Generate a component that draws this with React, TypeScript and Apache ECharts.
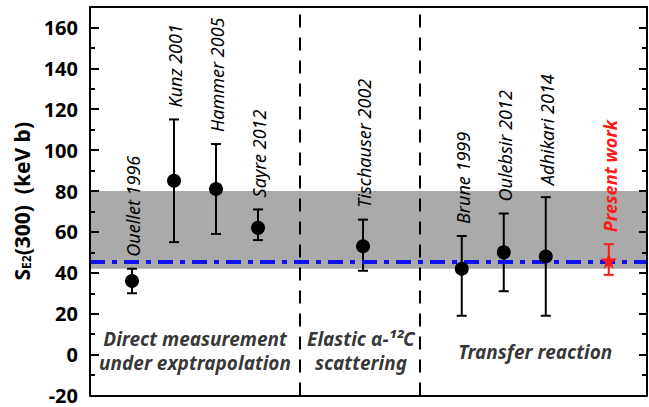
import React, { useEffect, useRef } from 'react';
import * as echarts from 'echarts';

// ---- data ----
const studyNames = ['Ouellet 1996', 'Kunz 2001', 'Hammer 2005', 'Sayre 2012', 'Tischauser 2002', 'Brune 1999', 'Oulebsir 2012', 'Adhikari 2014'];
const studyX = [1, 2, 3, 4, 6.5, 8.85, 9.85, 10.85];
const studyValue = [36, 85, 81, 62, 53, 42, 50, 48];
const studyLow = [30, 55, 59, 56, 41, 19, 31, 19];
const studyHigh = [42, 115, 103, 71, 66, 58, 69, 77];

const presentNames = ['Present work'];
const presentX = [12.35];
const presentValue = [46];
const presentLow = [39];
const presentHigh = [54];

const bandRange = [42, 80];
const meanValue = 45.5;
const dividerX = [5, 7.85];

const groupLabels = ['Direct measurement\nunder exptrapolation', 'Elastic α-¹²C\nscattering', 'Transfer reaction'];
const groupX = [2.5, 6.45, 10.6];
const groupY = [2, 2, 1.5];

const yMin = -20;
const yMax = 170;
const yMajor = 20;
const yMinor = 10;
const xMin = 0;
const xMax = 13.26;

const FONT = '"Noto Sans", "DejaVu Sans", sans-serif';

function errorBarRender(names: string[], color: string, bold: boolean) {
  return (params: any, api: any) => {
    const x = api.value(0);
    const lo = api.coord([x, api.value(2)]);
    const hi = api.coord([x, api.value(3)]);
    const cap = 5;
    const style = { stroke: color, lineWidth: 2 };
    return {
      type: 'group',
      children: [
        { type: 'line', shape: { x1: lo[0], y1: lo[1], x2: hi[0], y2: hi[1] }, style },
        { type: 'line', shape: { x1: lo[0] - cap, y1: lo[1], x2: lo[0] + cap, y2: lo[1] }, style },
        { type: 'line', shape: { x1: hi[0] - cap, y1: hi[1], x2: hi[0] + cap, y2: hi[1] }, style },
        {
          type: 'text',
          x: hi[0] + 1,
          y: hi[1] - 12,
          rotation: Math.PI / 2,
          style: {
            text: names[params.dataIndex],
            fill: color,
            fontSize: 18,
            fontStyle: 'italic',
            fontWeight: bold ? 'bold' : 'normal',
            fontFamily: FONT,
            align: 'left',
            verticalAlign: 'middle',
          },
        },
      ],
    };
  };
}

const starPath = 'path://M50,0 L61,35 L98,35 L68,57 L79,91 L50,70 L21,91 L32,57 L2,35 L39,35 Z';

export default function App() {
  const ref = useRef<HTMLDivElement>(null);
  useEffect(() => {
    if (!ref.current) return;
    const chart = echarts.init(ref.current, undefined, { renderer: 'svg' });

    const yAxisBase = {
      type: 'value',
      min: yMin,
      max: yMax,
      splitLine: { show: false },
      z: 10,
    };

    const option: any = {
      animation: false,
      backgroundColor: '#ffffff',
      grid: { left: 90, right: 2, top: 7, bottom: 11.5, containLabel: false },
      xAxis: [
        {
          type: 'value', min: xMin, max: xMax, position: 'bottom', z: 10,
          axisLine: { show: true, onZero: false, lineStyle: { color: '#000', width: 2 } },
          axisTick: { show: false }, axisLabel: { show: false }, splitLine: { show: false },
        },
        {
          type: 'value', min: xMin, max: xMax, position: 'top', z: 10,
          axisLine: { show: true, onZero: false, lineStyle: { color: '#000', width: 2 } },
          axisTick: { show: false }, axisLabel: { show: false }, splitLine: { show: false },
        },
      ],
      yAxis: [
        {
          ...yAxisBase,
          position: 'left',
          interval: yMajor,
          axisLine: { show: true, lineStyle: { color: '#000', width: 2 } },
          axisTick: { show: true, inside: true, length: 9, lineStyle: { color: '#000', width: 2 } },
          axisLabel: {
            show: true,
            margin: 12,
            color: '#000',
            fontSize: 20,
            lineHeight: 20,
            fontWeight: 'bold',
            fontFamily: FONT,
            formatter: (v: number) => (v % yMajor === 0 ? String(v) : ''),
          },
          name: '{b|S}{s|E2}{b|(300)  (keV b)}',
          nameLocation: 'middle',
          nameGap: 58,
          nameTextStyle: {
            rich: {
              b: { fontSize: 21, fontWeight: 'bold', fontFamily: FONT, color: '#000', verticalAlign: 'bottom' },
              s: { fontSize: 12, fontWeight: 'bold', fontFamily: FONT, color: '#000', verticalAlign: 'bottom' },
            },
          },
        },
        {
          ...yAxisBase,
          position: 'left',
          interval: yMinor,
          axisLine: { show: false },
          axisTick: { show: true, inside: true, length: 5, lineStyle: { color: '#000', width: 2 } },
          axisLabel: { show: false },
        },
        {
          ...yAxisBase,
          position: 'right',
          interval: yMajor,
          axisLine: { show: true, lineStyle: { color: '#000', width: 2 } },
          axisTick: { show: true, inside: true, length: 8, lineStyle: { color: '#000', width: 2 } },
          axisLabel: { show: false },
        },
        {
          ...yAxisBase,
          position: 'right',
          interval: yMinor,
          axisLine: { show: false },
          axisTick: { show: true, inside: true, length: 5, lineStyle: { color: '#000', width: 2 } },
          axisLabel: { show: false },
        },
      ],
      series: [
        {
          name: 'band',
          type: 'line',
          data: [],
          z: 1,
          silent: true,
          markArea: {
            silent: true,
            itemStyle: { color: '#aaaaaa' },
            data: [[{ yAxis: bandRange[0] }, { yAxis: bandRange[1] }]],
          },
        },
        {
          name: 'dividers',
          type: 'line',
          data: [],
          z: 2,
          silent: true,
          markLine: {
            silent: true,
            symbol: ['none', 'none'],
            label: { show: false },
            lineStyle: { color: '#000', width: 2, type: [13, 10] },
            data: dividerX.map((x) => ({ xAxis: x })),
          },
        },
        {
          name: 'mean',
          type: 'line',
          data: [],
          z: 3,
          silent: true,
          markLine: {
            silent: true,
            symbol: ['none', 'none'],
            label: { show: false },
            lineStyle: { color: '#1010f0', width: 4, type: [15, 7, 5, 7] },
            data: [{ yAxis: meanValue }],
          },
        },
        {
          name: 'studyErr',
          type: 'custom',
          z: 4,
          silent: true,
          renderItem: errorBarRender(studyNames, '#000000', false),
          encode: { x: 0, y: [1, 2, 3] },
          data: studyX.map((x, i) => [x, studyValue[i], studyLow[i], studyHigh[i]]),
        },
        {
          name: 'presentErr',
          type: 'custom',
          z: 4,
          silent: true,
          renderItem: errorBarRender(presentNames, '#ff1a1a', true),
          encode: { x: 0, y: [1, 2, 3] },
          data: presentX.map((x, i) => [x, presentValue[i], presentLow[i], presentHigh[i]]),
        },
        {
          name: 'studies',
          type: 'scatter',
          z: 5,
          symbol: 'circle',
          symbolSize: 14,
          itemStyle: { color: '#000', opacity: 1 },
          data: studyX.map((x, i) => [x, studyValue[i]]),
        },
        {
          name: 'present',
          type: 'scatter',
          z: 5,
          symbol: starPath,
          symbolSize: 17,
          itemStyle: { color: '#ff1a1a', opacity: 1 },
          data: presentX.map((x, i) => [x, presentValue[i]]),
        },
        {
          name: 'groups',
          type: 'scatter',
          z: 6,
          silent: true,
          symbolSize: 1,
          itemStyle: { color: 'rgba(0,0,0,0)' },
          label: {
            show: true,
            position: 'inside',
            formatter: (p: any) => groupLabels[p.dataIndex],
            color: '#000',
            fontSize: 19,
            fontWeight: 'bold',
            fontStyle: 'italic',
            fontFamily: FONT,
            lineHeight: 24,
            align: 'center',
            verticalAlign: 'middle',
          },
          data: groupX.map((x, i) => [x, groupY[i]]),
        },
      ],
    };
    chart.setOption(option);
    return () => chart.dispose();
  }, []);
  return <div ref={ref} style={{ position: 'absolute', left: 0, top: 0, width: 649, height: 407 }} />;
}
